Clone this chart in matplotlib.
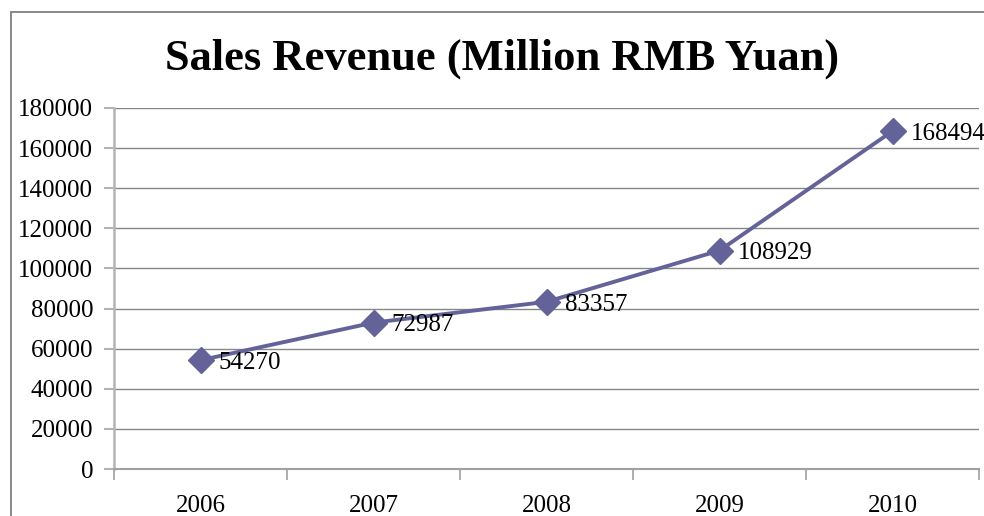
import matplotlib.pyplot as plt
from matplotlib.patches import Rectangle

# data
years = ["2006", "2007", "2008", "2009", "2010"]
revenue = [54270, 72987, 83357, 108929, 168494]
y_ticks = [0, 20000, 40000, 60000, 80000, 100000, 120000, 140000, 160000, 180000]

W, H = 984, 516
fig = plt.figure(figsize=(W / 100, H / 100), dpi=100)
plt.rcParams['font.family'] = ['Liberation Serif', 'DejaVu Serif']

# outer chart border (cut off on right/bottom like the source)
fig.patches.append(Rectangle((11 / W, -0.1), 1.2, 1 - 12 / H + 0.1, transform=fig.transFigure,
                             fill=False, edgecolor="#808080", lw=1.3))

ax = fig.add_axes([114 / W, 1 - 469 / H, (979 - 114) / W, (469 - 108) / H])

x = [i + 0.5 for i in range(len(years))]
line_color = "#636399"
ax.plot(x, revenue, color=line_color, lw=2.8, marker="D", markersize=13,
        markerfacecolor=line_color, markeredgecolor=line_color, clip_on=False, zorder=3)

for xi, v in zip(x, revenue):
    ax.annotate(str(v), (xi, v), xytext=(13, -2), textcoords="offset points",
                ha="left", va="center", fontsize=18, color="black", annotation_clip=False)

ax.set_xlim(0, len(years))
ax.set_ylim(0, 180000)
ax.set_yticks(y_ticks)
ax.set_yticklabels([str(t) for t in y_ticks], fontsize=18)
ax.set_xticks(x)
ax.set_xticklabels(years, fontsize=18)
ax.set_xticks(range(len(years) + 1), minor=True)

ax.grid(axis="y", color="#878787", lw=1)
ax.set_axisbelow(True)
for s in ["top", "right"]:
    ax.spines[s].set_visible(False)
ax.spines["left"].set_color("#b4b4b4")
ax.spines["left"].set_linewidth(1.8)
ax.spines["bottom"].set_color("#a0a0a0")
ax.spines["bottom"].set_linewidth(1.5)

ax.tick_params(axis="y", length=7, width=1.5, color="#b4b4b4", pad=8)
ax.tick_params(axis="x", which="major", length=0, pad=19)
ax.tick_params(axis="x", which="minor", length=8, width=1.2, color="#a0a0a0")

fig.text(0.51, 1 - 59 / H, "Sales Revenue (Million RMB Yuan)", ha="center", va="center",
         fontsize=32, fontweight="bold")

fig.savefig("out.png", dpi=100)
